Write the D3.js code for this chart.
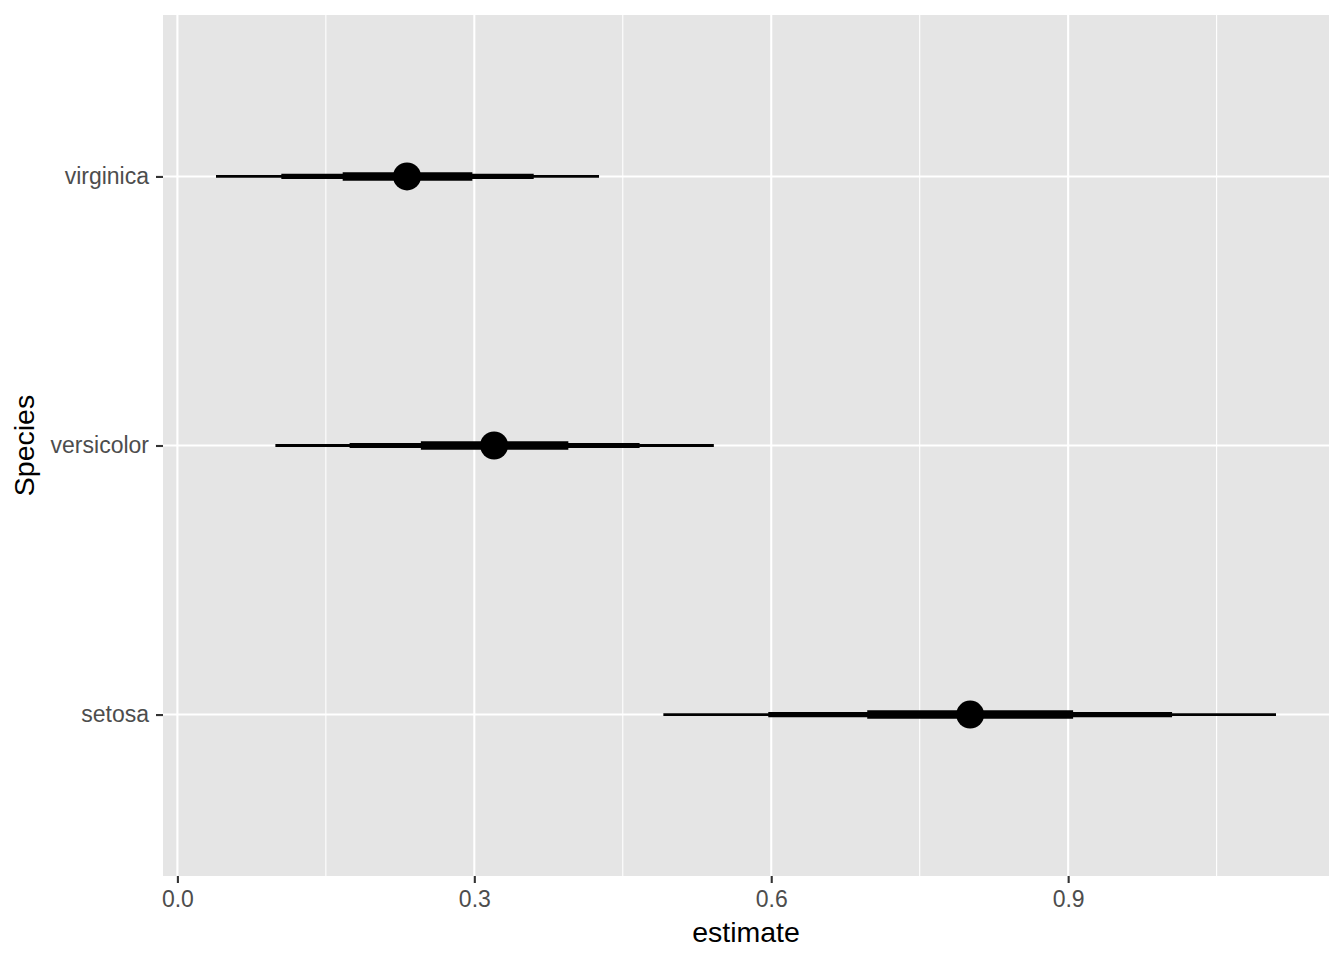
<!DOCTYPE html>
<html>
<head>
<meta charset="utf-8">
<script src="https://cdn.jsdelivr.net/npm/d3@7"></script>
<style>
  body { margin: 0; background: #fff; }
  svg { display: block; font-family: "Liberation Sans", Arial, sans-serif; }
</style>
</head>
<body>
<svg id="chart" width="1344" height="960"></svg>
<script>
// categories, bottom to top
const species = ["setosa", "versicolor", "virginica"];
const estimate = [0.801, 0.320, 0.232];
const lo50 = [0.697, 0.246, 0.167];
const hi50 = [0.905, 0.395, 0.298];
const lo80 = [0.597, 0.174, 0.105];
const hi80 = [1.005, 0.467, 0.360];
const lo95 = [0.491, 0.099, 0.039];
const hi95 = [1.110, 0.542, 0.426];
const xTicks = [0.0, 0.3, 0.6, 0.9];
const xMinor = [0.15, 0.45, 0.75, 1.05];

const svg = d3.select("#chart");
const panel = { left: 163, right: 1329, top: 15, bottom: 876 };

// ggplot-style 5% expansion on the continuous axis
const lo = d3.min(lo95), hi = d3.max(hi95);
const pad = (hi - lo) * 0.05;
const x = d3.scaleLinear()
    .domain([lo - pad, hi + pad])
    .range([panel.left, panel.right]);

// discrete axis with 0.6 unit expansion
const y = d3.scalePoint()
    .domain(species)
    .range([panel.bottom, panel.top])
    .padding(0.6);

svg.append("rect")
    .attr("x", panel.left)
    .attr("y", panel.top)
    .attr("width", panel.right - panel.left)
    .attr("height", panel.bottom - panel.top)
    .attr("fill", "#e5e5e5");

const grid = svg.append("g");
grid.selectAll(".minor")
    .data(xMinor)
    .join("line")
    .attr("x1", d => x(d)).attr("x2", d => x(d))
    .attr("y1", panel.top).attr("y2", panel.bottom)
    .attr("stroke", "#fff").attr("stroke-width", 1.1);
grid.selectAll(".major")
    .data(xTicks)
    .join("line")
    .attr("x1", d => x(d)).attr("x2", d => x(d))
    .attr("y1", panel.top).attr("y2", panel.bottom)
    .attr("stroke", "#fff").attr("stroke-width", 2.1);
grid.selectAll(".hmajor")
    .data(species)
    .join("line")
    .attr("x1", panel.left).attr("x2", panel.right)
    .attr("y1", d => y(d)).attr("y2", d => y(d))
    .attr("stroke", "#fff").attr("stroke-width", 2.1);

// intervals: 95 thin, 80 medium, 50 thick
const rows = species.map((s, i) => ({
    s, est: estimate[i],
    bands: [
        { a: lo95[i], b: hi95[i], w: 2.8 },
        { a: lo80[i], b: hi80[i], w: 5.2 },
        { a: lo50[i], b: hi50[i], w: 8.6 }
    ]
}));

const marks = svg.append("g");
rows.forEach(r => {
    marks.selectAll(null)
        .data(r.bands)
        .join("line")
        .attr("x1", d => x(d.a)).attr("x2", d => x(d.b))
        .attr("y1", y(r.s)).attr("y2", y(r.s))
        .attr("stroke", "#000")
        .attr("stroke-width", d => d.w);
});
marks.selectAll("circle")
    .data(rows)
    .join("circle")
    .attr("cx", d => x(d.est))
    .attr("cy", d => y(d.s))
    .attr("r", 14)
    .attr("fill", "#000");

// axes
const xAxis = d3.axisBottom(x)
    .tickValues(xTicks)
    .tickFormat(d3.format(".1f"))
    .tickSize(7)
    .tickPadding(8);
const gx = svg.append("g")
    .attr("transform", `translate(0, ${panel.bottom})`)
    .call(xAxis);
gx.select(".domain").remove();
gx.selectAll(".tick line").attr("stroke", "#333").attr("stroke-width", 2.1);
gx.selectAll(".tick text")
    .attr("fill", "#4d4d4d")
    .style("font-size", "23px")
    .style("font-family", "Liberation Sans, Arial, sans-serif");

const yAxis = d3.axisLeft(y)
    .tickSize(7)
    .tickPadding(7);
const gy = svg.append("g")
    .attr("transform", `translate(${panel.left}, 0)`)
    .call(yAxis);
gy.select(".domain").remove();
gy.selectAll(".tick line").attr("stroke", "#333").attr("stroke-width", 2.1);
gy.selectAll(".tick text")
    .attr("fill", "#4d4d4d")
    .style("font-size", "23px")
    .style("font-family", "Liberation Sans, Arial, sans-serif");

svg.append("text")
    .attr("x", (panel.left + panel.right) / 2)
    .attr("y", 942)
    .attr("text-anchor", "middle")
    .style("font-size", "28.5px")
    .attr("fill", "#000")
    .text("estimate");

svg.append("text")
    .attr("transform", `translate(34, ${(panel.top + panel.bottom) / 2}) rotate(-90)`)
    .attr("text-anchor", "middle")
    .style("font-size", "28.5px")
    .attr("fill", "#000")
    .text("Species");
</script>
</body>
</html>
